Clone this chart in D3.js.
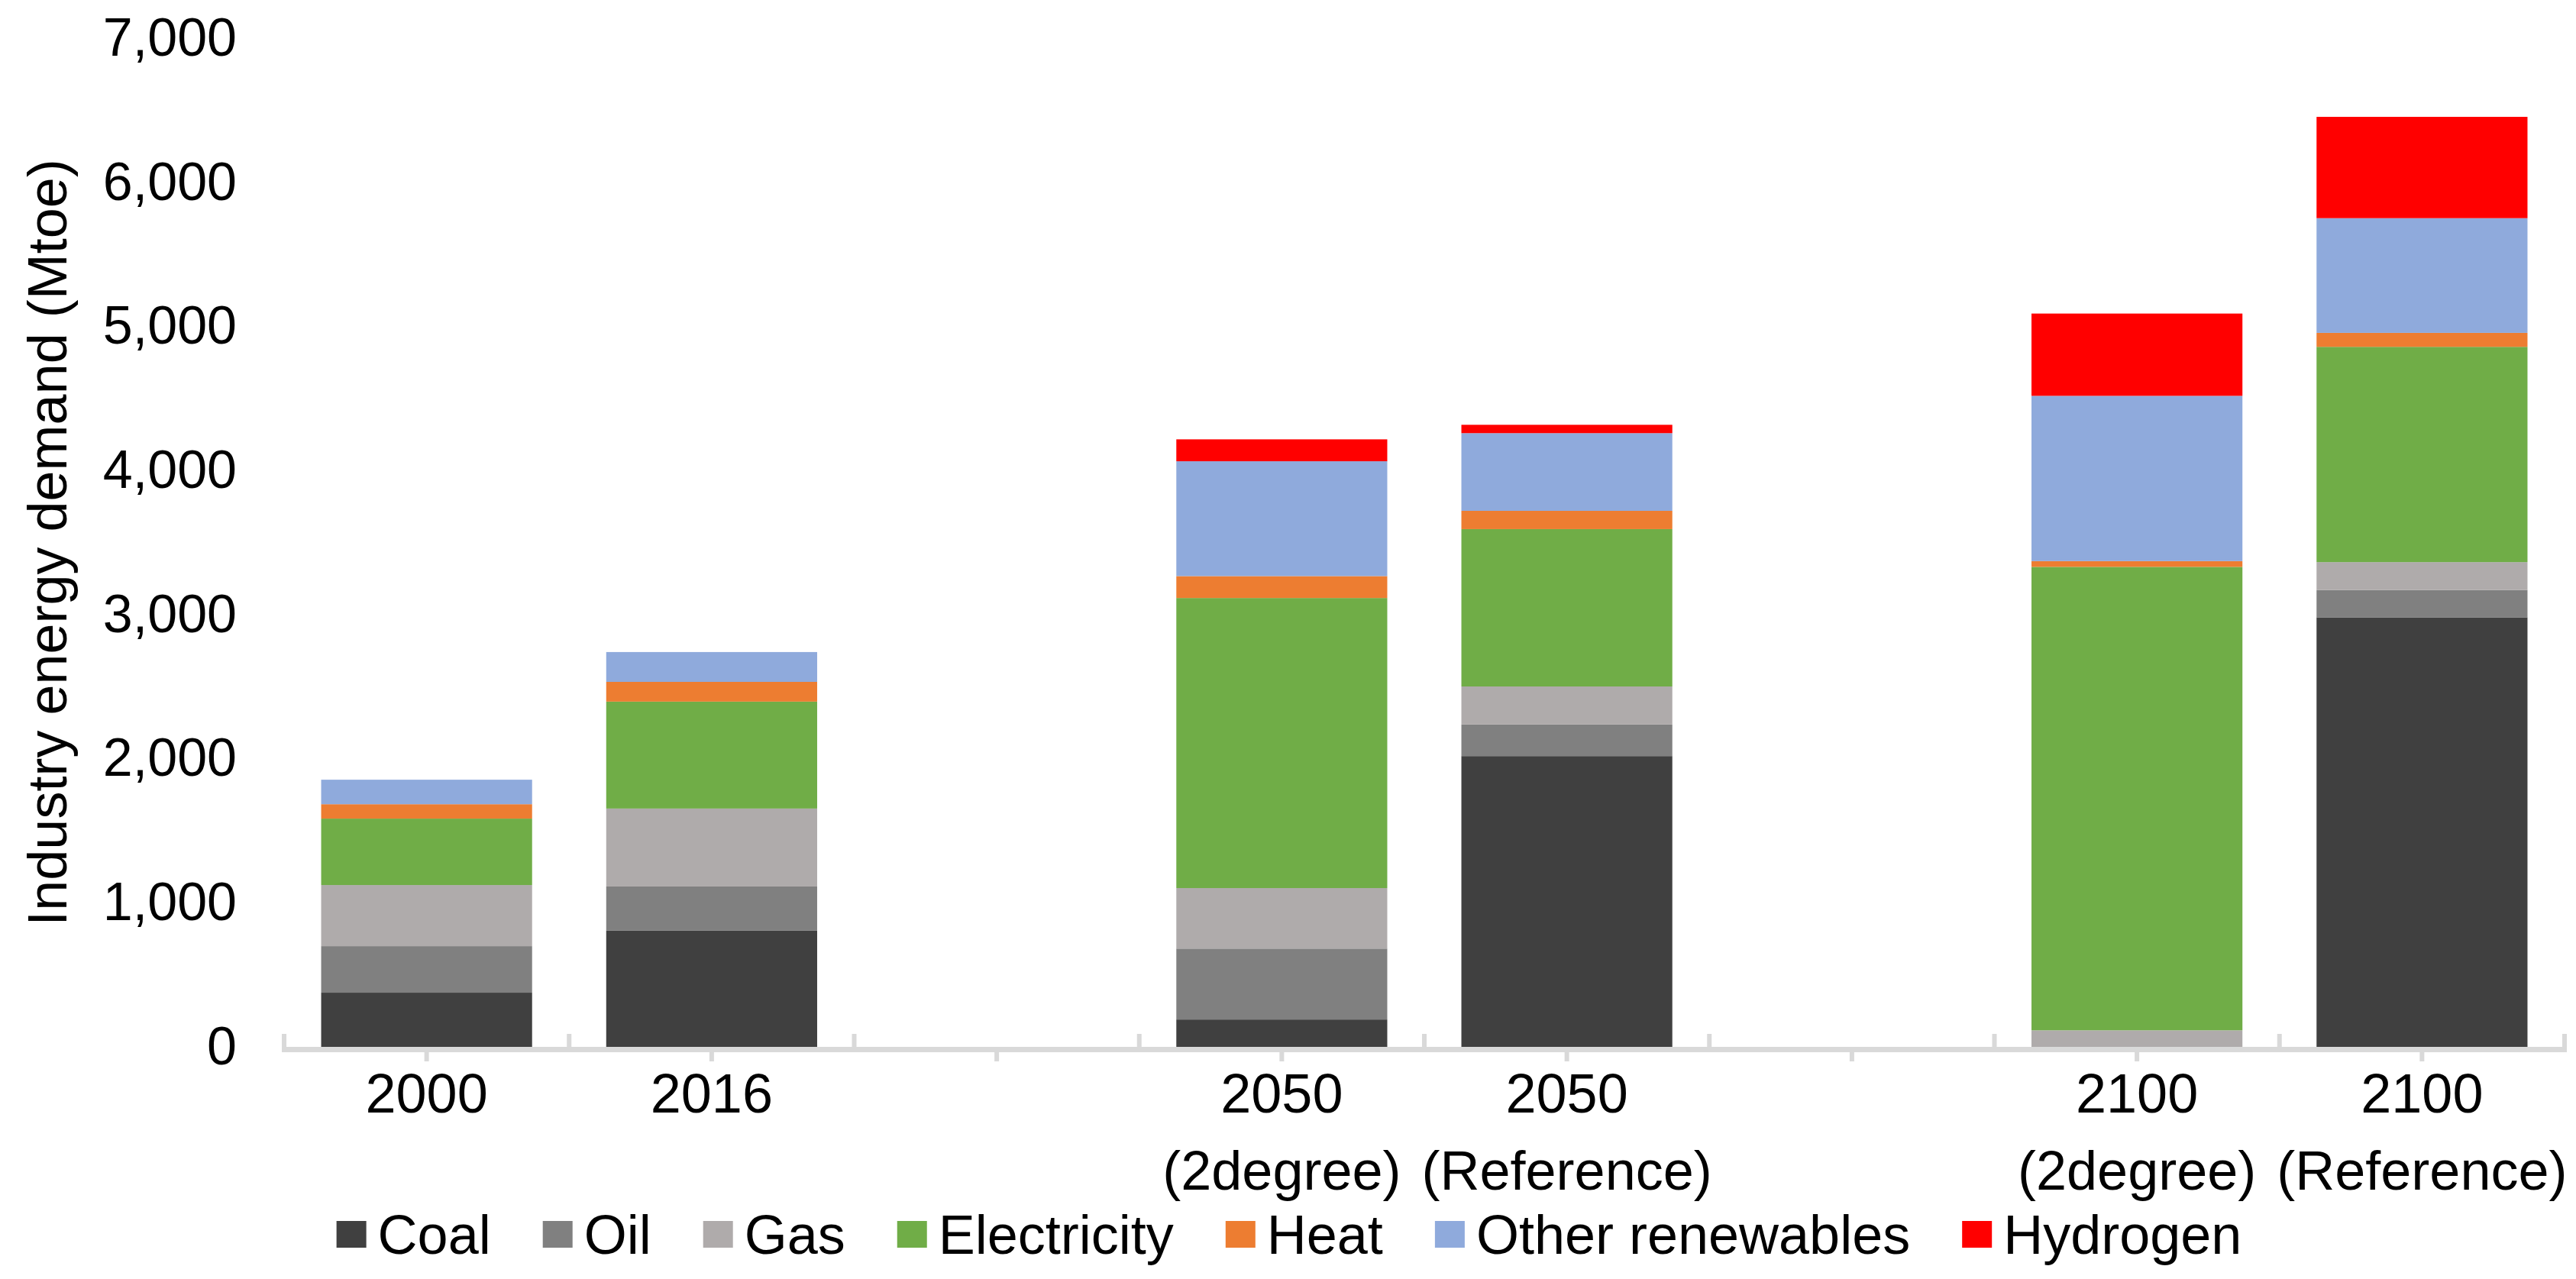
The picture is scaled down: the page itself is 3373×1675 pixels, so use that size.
<!DOCTYPE html>
<html lang="en">
<head>
<meta charset="UTF-8" />
<title>Industry energy demand</title>
<script src="https://cdn.jsdelivr.net/npm/d3@7"></script>
<style>
body{margin:0;background:#fff}
svg{display:block;font-family:"Liberation Sans",Arial,sans-serif}
</style>
</head>
<body>
<svg id="chart" width="3373" height="1675"></svg>
<script>
/* ===== data (Mtoe) ===== */
const catKeys  =['c2000','c2016','gapA','c2050a','c2050b','gapB','c2100a','c2100b'];
const catLine1 =['2000','2016','','2050','2050','','2100','2100'];
const catLine2 =['','','','(2degree)','(Reference)','','(2degree)','(Reference)'];
const fuels    =['Coal','Oil','Gas','Electricity','Heat','Other renewables','Hydrogen'];
const colors   =['#404040','#808080','#afabab','#70ad47','#ed7d31','#8faadc','#ff0000'];
const coal     =[376, 806,0, 190,2018,0,   0,2981];
const oil      =[323, 307,0, 492, 219,0,   0, 189];
const gas      =[424, 541,0, 420, 264,0, 115, 194];
const elec     =[461, 742,0,2013,1092,0,3216,1494];
const heat     =[100, 137,0, 152, 127,0,  40,  97];
const otherRen =[170, 207,0, 797, 539,0,1147, 796];
const hydrogen =[  0,   0,0, 152,  58,0, 571, 703];
const yTicks   =[0,1000,2000,3000,4000,5000,6000,7000];

const series=[coal,oil,gas,elec,heat,otherRen,hydrogen];
const rows=catKeys.map((k,i)=>{const r={key:k};fuels.forEach((f,j)=>r[f]=series[j][i]);return r});

/* ===== layout ===== */
const svg=d3.select('#chart');
const X0=372,X1=3358,Y0=1371,YT=50;
const x=d3.scaleBand().domain(catKeys).range([X0,X1]).paddingInner(0.26).paddingOuter(0.13);
const y=d3.scaleLinear().domain([0,7000]).range([Y0,YT]);
const stack=d3.stack().keys(fuels)(rows);

/* bars */
svg.append('g').selectAll('g').data(stack).join('g')
  .attr('fill',(d,i)=>colors[i])
  .selectAll('rect').data(d=>d).join('rect')
  .attr('x',d=>x(d.data.key)).attr('width',x.bandwidth())
  .attr('y',d=>y(d[1])).attr('height',d=>y(d[0])-y(d[1]));

/* y axis labels (no line, no grid) */
const yAx=svg.append('g').attr('transform',`translate(${X0},0)`)
  .call(d3.axisLeft(y).tickValues(yTicks).tickFormat(d3.format(',')).tickSize(0).tickPadding(62));
yAx.select('.domain').remove();
yAx.selectAll('text').attr('font-size',70).attr('fill','#000').attr('font-family','"Liberation Sans",Arial,sans-serif');

/* x axis: thick grey line, ticks up at boundaries, ticks down at centres */
const ax=svg.append('g').attr('stroke','#d9d9d9');
ax.append('line').attr('x1',X0-3).attr('x2',X1+3).attr('y1',Y0+3.5).attr('y2',Y0+3.5).attr('stroke-width',7);
const step=x.step();
ax.selectAll('.tb').data(d3.range(catKeys.length+1)).join('line')
  .attr('x1',i=>X0+i*step).attr('x2',i=>X0+i*step)
  .attr('y1',Y0-17).attr('y2',Y0+3).attr('stroke-width',6);
ax.selectAll('.tc').data(catKeys).join('line')
  .attr('x1',k=>x(k)+x.bandwidth()/2).attr('x2',k=>x(k)+x.bandwidth()/2)
  .attr('y1',Y0+6).attr('y2',Y0+19).attr('stroke-width',6);

/* category labels (two lines) */
const lab=svg.append('g').attr('font-size',72).attr('text-anchor','middle').attr('fill','#000');
lab.selectAll('.l1').data(catKeys).join('text')
  .attr('x',k=>x(k)+x.bandwidth()/2).attr('y',1457).text((k,i)=>catLine1[i]);
lab.selectAll('.l2').data(catKeys).join('text')
  .attr('x',k=>x(k)+x.bandwidth()/2).attr('y',1558).text((k,i)=>catLine2[i]);

/* y title */
svg.append('text').attr('transform',`translate(87,${(Y0+YT)/2}) rotate(-90)`)
  .attr('text-anchor','middle').attr('font-size',72).attr('fill','#000')
  .text('Industry energy demand (Mtoe)');

/* legend, centred on the chart */
const leg=svg.append('g');
const items=leg.selectAll('g').data(fuels).join('g');
items.append('rect').attr('width',39).attr('height',35).attr('y',1599).attr('fill',(d,i)=>colors[i]);
items.append('text').attr('x',54).attr('y',1642).attr('font-size',72).attr('fill','#000').text(d=>d);
let cx=0;
items.each(function(){
  const g=d3.select(this),w=g.select('text').node().getComputedTextLength();
  g.attr('transform',`translate(${cx},0)`);cx+=54+w+68;
});
leg.attr('transform',`translate(${1688-(cx-68)/2},0)`);
</script>
</body>
</html>
